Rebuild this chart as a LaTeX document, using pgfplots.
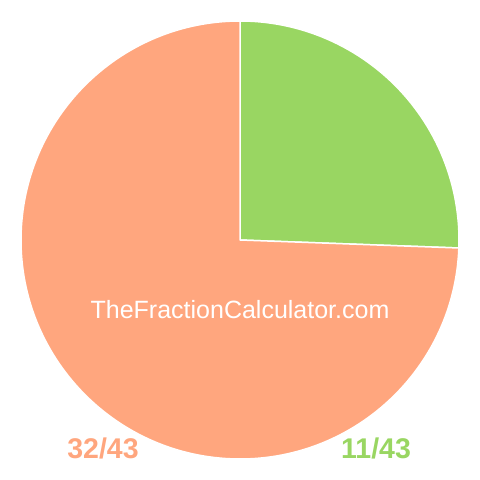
\documentclass[border=0pt]{standalone}
\usepackage{pgfplots}
\pgfplotsset{compat=1.18}
\usepackage{pgfplotstable}
\usepackage{fontspec}
\setmainfont{Liberation Sans}
\definecolor{pieOrange}{RGB}{255,166,126}
\definecolor{pieGreen}{RGB}{153,214,98}

\pgfplotstableread{
label value
32/43 32
11/43 11
}\piedata

\begin{document}
\begin{tikzpicture}
\pgfplotstablegetelem{0}{value}\of\piedata \let\va\pgfplotsretval
\pgfplotstablegetelem{1}{value}\of\piedata \let\vb\pgfplotsretval
\pgfmathsetmacro{\total}{\va+\vb}
\pgfmathsetmacro{\angB}{90-360*\vb/\total}
\begin{axis}[
    scale only axis, width=480pt, height=480pt,
    xmin=0, xmax=480, ymin=0, ymax=480,
    hide axis, clip=false,
]
% keep the whole 480x480 canvas in the bounding box
\path (axis cs:0,0) rectangle (axis cs:480,480);
% green slice (11/43), clockwise from the top
\filldraw[fill=pieGreen, draw=white, line width=1.5pt, line join=round]
    (axis cs:240,240) -- (axis cs:240,459) arc[start angle=90, end angle=\angB, radius=219pt] -- cycle;
% orange slice (32/43)
\filldraw[fill=pieOrange, draw=white, line width=1.5pt, line join=round]
    (axis cs:240,240) -- ++(\angB:219pt) arc[start angle=\angB, end angle=-270, radius=219pt] -- cycle;
\node[text=white, font=\fontsize{25}{30}\selectfont, anchor=base] at (axis cs:240,161) {TheFractionCalculator.com};
\node[text=pieOrange, font=\bfseries\fontsize{28.5}{33}\selectfont, anchor=base] at (axis cs:103,21) {32/43};
\node[text=pieGreen, font=\bfseries\fontsize{28.5}{33}\selectfont, anchor=base] at (axis cs:376,21) {11/43};
\end{axis}
\end{tikzpicture}
\end{document}
